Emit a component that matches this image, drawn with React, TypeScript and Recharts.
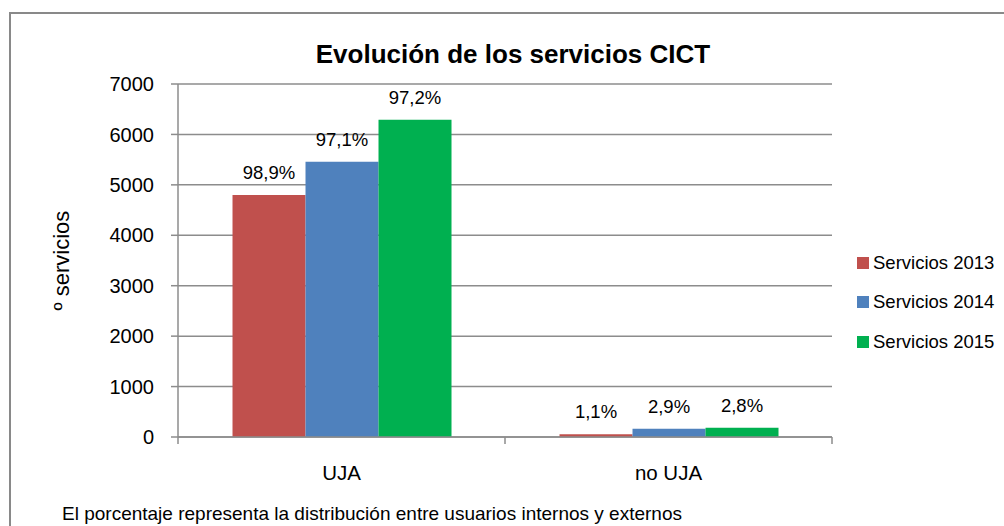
import React from 'react';
import {
    BarChart,
    Bar,
    XAxis,
    YAxis,
    CartesianGrid,
    Legend,
    LabelList
} from 'recharts';

const categories = ['UJA', 'no UJA'];
const servicios2013 = [4800, 53];
const servicios2014 = [5460, 163];
const servicios2015 = [6290, 181];
const pct2013 = ['98,9%', '1,1%'];
const pct2014 = ['97,1%', '2,9%'];
const pct2015 = ['97,2%', '2,8%'];
const yTicks = [0, 1000, 2000, 3000, 4000, 5000, 6000, 7000];

const FONT = '"Liberation Sans", Arial, sans-serif';
const GRID = '#8c8c8c';

const data = categories.map((name, i) => ({
    name,
    s2013: servicios2013[i],
    s2014: servicios2014[i],
    s2015: servicios2015[i],
    p2013: pct2013[i],
    p2014: pct2014[i],
    p2015: pct2015[i],
}));

// ticks sit on the band edges, like Excel's category axis
const CategoryTick = (props: any) => {
    const { x, y, payload, index, visibleTicksCount, width } = props;
    const half = payload.offset ?? width / visibleTicksCount / 2;
    const last = index === visibleTicksCount - 1;
    return (
        <g>
            <line x1={x - half} y1={y} x2={x - half} y2={y + 7} stroke={GRID} strokeWidth={1.5} />
            {last && <line x1={x + half} y1={y} x2={x + half} y2={y + 7} stroke={GRID} strokeWidth={1.5} />}
            <text x={x} y={y + 43} textAnchor="middle" fill="#000" fontSize={20.5} fontFamily={FONT}>
                {payload.value}
            </text>
        </g>
    );
};

const LegendContent = (props: any) => (
    <div style={{ fontFamily: FONT, fontSize: 18.5, color: '#000' }}>
        {props.payload.map((item: any) => (
            <div key={item.value} style={{ display: 'flex', alignItems: 'center', height: 39.5, whiteSpace: 'nowrap' }}>
                <span style={{ display: 'inline-block', width: 12, height: 12, background: item.color, marginRight: 4 }} />
                {item.value}
            </div>
        ))}
    </div>
);

const YLabel = (props: any) => {
    const { viewBox } = props;
    const cx = 61;
    const cy = viewBox.y + viewBox.height / 2;
    return (
        <text x={cx} y={cy} transform={`rotate(-90 ${cx} ${cy})`} textAnchor="middle" dominantBaseline="central"
            fill="#000" fontSize={22} fontFamily={FONT}>
            º servicios
        </text>
    );
};

export default function App() {
    return (
        <div style={{ position: 'relative', width: 1004, height: 526, overflow: 'hidden', background: '#fff', fontFamily: FONT }}>
            <style>{'body{margin:0}'}</style>
            <div style={{ position: 'absolute', left: 9, top: 12, width: 1100, height: 600, border: '2px solid #898989', boxSizing: 'border-box' }} />
            <div style={{ position: 'absolute', left: 0, top: 41, width: 1026, textAlign: 'center', fontSize: 26, lineHeight: '26px', fontWeight: 'bold', color: '#000' }}>
                Evolución de los servicios CICT
            </div>
            <div style={{ position: 'absolute', left: 0, top: 0 }}>
                <BarChart
                    width={1004}
                    height={526}
                    data={data}
                    margin={{ top: 84, right: 172, left: 0, bottom: 0 }}
                    barCategoryGap="16.67%"
                    barGap={0}
                >
                    <CartesianGrid vertical={false} stroke={GRID} strokeWidth={1.5} />
                    <XAxis
                        dataKey="name"
                        height={89}
                        axisLine={{ stroke: GRID, strokeWidth: 1.5 }}
                        tickLine={false}
                        tickSize={0}
                        tickMargin={0}
                        tick={<CategoryTick />}
                        interval={0}
                    />
                    <YAxis
                        width={178}
                        domain={[0, 7000]}
                        ticks={yTicks}
                        interval={0}
                        axisLine={{ stroke: GRID, strokeWidth: 1.5 }}
                        tickLine={{ stroke: GRID, strokeWidth: 1.5 }}
                        tickSize={7}
                        tickMargin={17}
                        tick={{ fill: '#000', fontSize: 20, fontFamily: FONT }}
                        label={<YLabel />}
                    />
                    <Legend
                        layout="vertical"
                        align="center"
                        verticalAlign="middle"
                        content={<LegendContent />}
                        wrapperStyle={{ left: 857, top: 243, width: 150 }}
                    />
                    <Bar dataKey="s2013" name="Servicios 2013" fill="#C0504D" isAnimationActive={false}>
                        <LabelList dataKey="p2013" position="top" offset={16} fill="#000" fontSize={18.5} fontFamily={FONT} />
                    </Bar>
                    <Bar dataKey="s2014" name="Servicios 2014" fill="#4F81BD" isAnimationActive={false}>
                        <LabelList dataKey="p2014" position="top" offset={16} fill="#000" fontSize={18.5} fontFamily={FONT} />
                    </Bar>
                    <Bar dataKey="s2015" name="Servicios 2015" fill="#00B050" isAnimationActive={false}>
                        <LabelList dataKey="p2015" position="top" offset={16} fill="#000" fontSize={18.5} fontFamily={FONT} />
                    </Bar>
                </BarChart>
            </div>
            <div style={{ position: 'absolute', left: 62, top: 504, fontSize: 19, lineHeight: '19px', color: '#000', whiteSpace: 'nowrap' }}>
                El porcentaje representa la distribución entre usuarios internos y externos
            </div>
        </div>
    );
}
